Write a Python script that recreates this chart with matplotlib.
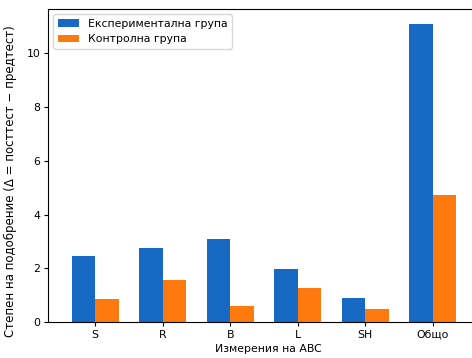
import matplotlib.pyplot as plt
import numpy as np

categories = ["S", "R", "B", "L", "SH", "Общо"]
experimental = [2.46, 2.77, 3.08, 1.97, 0.91, 11.1]
control = [0.86, 1.56, 0.59, 1.25, 0.49, 4.72]

plt.rcParams["font.size"] = 7.8
plt.rcParams["xtick.major.size"] = 3
plt.rcParams["ytick.major.size"] = 3
plt.rcParams["xtick.major.pad"] = 2.5
plt.rcParams["ytick.major.pad"] = 2.5

fig = plt.figure(figsize=(4.72, 3.58), dpi=100)
ax = fig.add_axes([48 / 472, 36 / 358, 440 / 472, 313 / 358])

x = np.arange(len(categories))
width = 0.35
ax.bar(x - width / 2, experimental, width, color="#1769c4", label="Експериментална група")
ax.bar(x + width / 2, control, width, color="#ff7a0e", label="Контролна група")

ax.set_xticks(x)
ax.set_xticklabels(categories)
ax.set_xlim(-0.7, 5.82)
ax.set_yticks([0, 2, 4, 6, 8, 10])
ax.set_xlabel("Измерения на ABC", labelpad=3)
ax.set_ylabel("Степен на подобрение (Δ = посттест − предтест)", fontsize=8.5)
ax.yaxis.set_label_coords(-0.07, 0.45)
ax.legend(loc="upper left")

fig.savefig("out.png", dpi=100)
plt.close(fig)
